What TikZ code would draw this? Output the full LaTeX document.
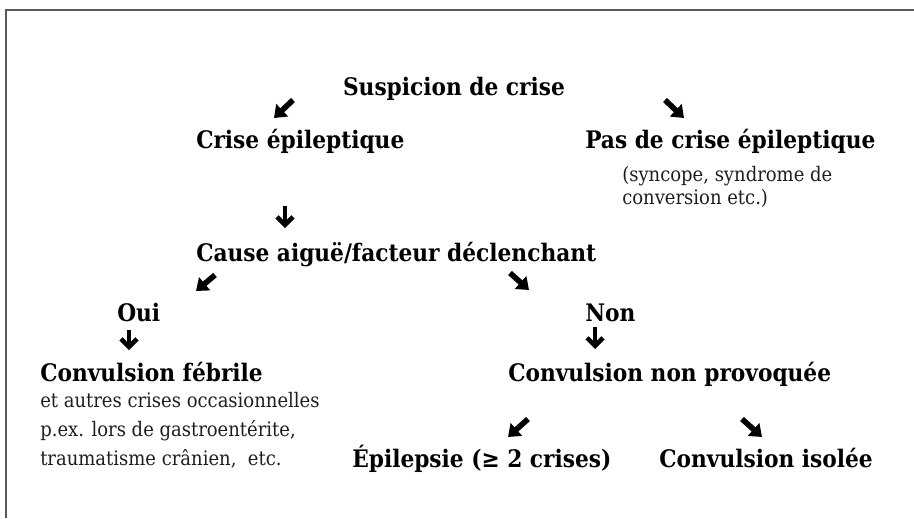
\documentclass[tikz,border=0pt]{standalone}
\usepackage{fontspec}
\setmainfont{DejaVu Serif Condensed}
\usepackage{tikz}
\usetikzlibrary{arrows.meta}

\definecolor{txtgray}{RGB}{30,30,30}
\definecolor{framegray}{RGB}{90,90,90}

\tikzset{
  hd/.style={anchor=base west,inner sep=0pt,font=\bfseries\fontsize{18.1}{21}\selectfont},
  tx/.style={anchor=base west,inner sep=0pt,text=txtgray,font=\fontsize{15}{18}\selectfont},
  darr/.style={line width=4.2pt,-{Triangle[width=12.5pt,length=8.5pt]}},
  varr/.style={line width=3.4pt,-{Straight Barb[width=12pt,length=6pt,line width=3.4pt]}}
}

\begin{document}
\begin{tikzpicture}[x=0.75pt,y=0.75pt,yscale=-1,xscale=1]
\useasboundingbox (0,0) rectangle (914,518);

%Frame
\draw [framegray,line width=1pt] (6,518) -- (6,10) -- (914,10);

% Text Nodes
\node [hd,anchor=base] (susp) at (454,95) {Suspicion de crise};
\node [hd] (crise) at (196,148) {Crise épileptique};
\node [hd] (pasde) at (585,148) {Pas de crise épileptique};
\node [tx] (syncA) at (622,181) {(syncope, syndrome de};
\node [tx] (syncB) at (622,204) {conversion etc.)};
\node [hd] (cause) at (196,261) {Cause aiguë/facteur déclenchant};
\node [hd] (oui) at (117,321) {Oui};
\node [hd] (non) at (585,321) {Non};
\node [hd] (febr) at (40,381) {Convulsion fébrile};
\node [tx] (autrA) at (40,407) {et autres crises occasionnelles};
\node [tx] (autrB) at (40,436) {p.ex. lors de gastroentérite,};
\node [tx] (autrC) at (40,465) {traumatisme crânien,\ \ etc.};
\node [hd] (nprov) at (508,381) {Convulsion non provoquée};
\node [hd] (epil) at (352,467) {Épilepsie (≥ 2 crises)};
\node [hd,anchor=base east] (isol) at (873,467) {Convulsion isolée};

%Arrows
\draw [darr] (293,100) -- (274,118);
\draw [darr] (665,100) -- (684,118);
\draw [varr] (285,206) -- (285,228);
\draw [darr] (215,275) -- (196,291);
\draw [darr] (510,273) -- (529,290);
\draw [varr] (129,330) -- (129,350);
\draw [varr] (595,327) -- (595,349);
\draw [darr] (528,419) -- (508,437);
\draw [darr] (742,419) -- (762,437);

\end{tikzpicture}
\end{document}
